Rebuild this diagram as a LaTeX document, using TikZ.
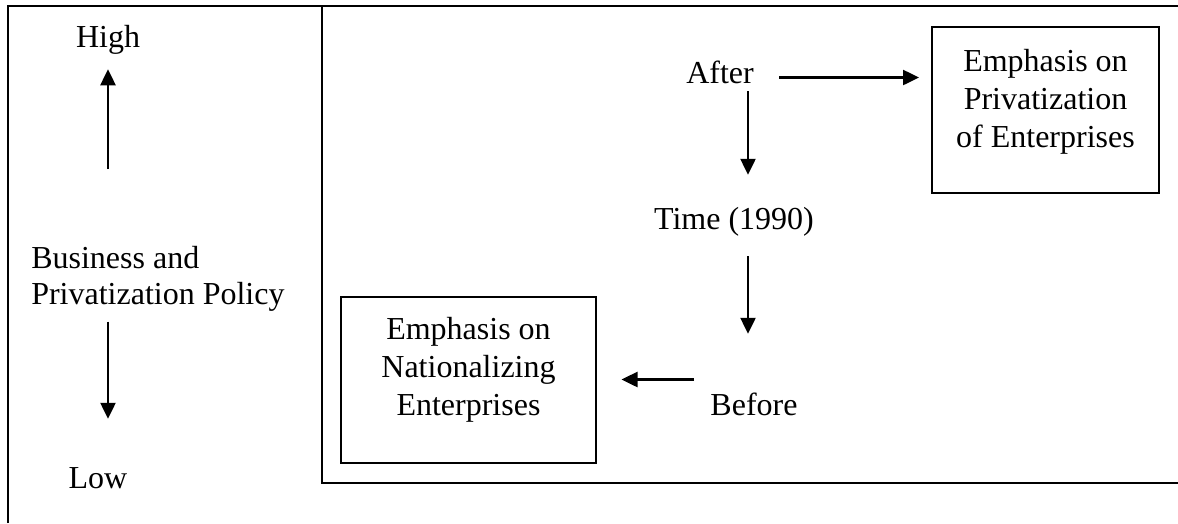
\documentclass[tikz,border=0pt]{standalone}
\usepackage{fontspec}
\setmainfont{Liberation Serif}
\usetikzlibrary{arrows.meta}

\begin{document}
\begin{tikzpicture}[x=1pt,y=-1pt,->,>={Triangle[length=16pt,width=15pt]},line width=2.5pt,
  font=\fontsize{32}{38}\selectfont,
  word node/.style={inner sep=0pt,text height=22pt,text depth=7pt,anchor=base},
  policy box/.style={draw,rectangle,line width=2pt,inner sep=0pt,minimum height=166pt},
  box text/.style={inner sep=0pt,align=center,anchor=north},
  frame line/.style={-,line width=2pt}]

  \useasboundingbox (0,0) rectangle (1178,523);

%frames
  \draw[frame line] (8,523) -- (8,6) -- (1178,6);
  \draw[frame line] (322,6) -- (322,483) -- (1178,483);

%policy axis
  \node[word node] (high) at (108,47) {High};
  \node[inner sep=0pt,align=left,anchor=north west,
    font=\fontsize{32}{36}\selectfont] (pol) at (30,245.1) {Business and\\Privatization Policy};
  \node[word node] (low) at (98,488) {Low};

%time axis
  \node[word node] (after) at (720,83) {After};
  \node[word node] (time) at (734,229) {Time (1990)};
  \node[word node] (before) at (754,415) {Before};

%boxes
  \node[policy box,minimum width=227pt] (priv) at (1045.5,110) {};
  \node[box text] (privText) at (1045.5,48.1) {Emphasis on\\Privatization\\of Enterprises};
  \node[policy box,minimum width=255pt] (nat) at (468.5,380) {};
  \node[box text] (natText) at (468.5,316.1) {Emphasis on\\Nationalizing\\Enterprises};

%arrows left
  \draw[shorten <=76pt,shorten >=14pt] (high.south |- pol.north) -- (high.south);
  \draw[shorten <=9pt,shorten >=46pt] (high.south |- pol.south) -- (high.south |- low.north);

%arrows right
  \draw[shorten >=12pt] ([xshift=24pt,yshift=-2pt]after.east) coordinate (a1) -- (a1 -| priv.west);
  \draw[shorten >=31pt] ([xshift=28pt]after.south) -- ([xshift=14pt]time.north);
  \draw[shorten <=19pt,shorten >=58pt] ([xshift=14pt]time.south) -- ([xshift=-6pt]before.north);
  \draw[shorten >=24.5pt] ([xshift=-15pt,yshift=28pt]before.west) coordinate (a4) -- (a4 -| nat.east);

\end{tikzpicture}
\end{document}
